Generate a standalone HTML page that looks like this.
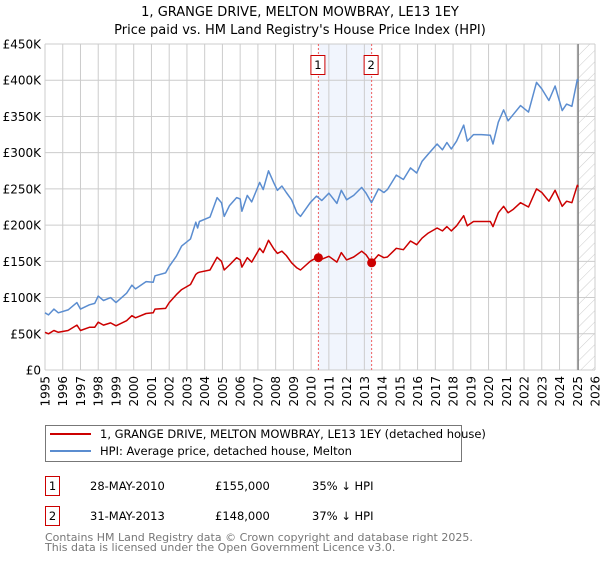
<!DOCTYPE html>
<html><head><meta charset="utf-8"><style>
body{margin:0;background:#fff;width:600px;height:560px;overflow:hidden;font-family:"DejaVu Sans","Liberation Sans",sans-serif;}
svg text{font-family:"DejaVu Sans","Liberation Sans",sans-serif;}
</style></head><body>
<svg id="chart" width="600" height="560" xmlns="http://www.w3.org/2000/svg">
<defs><pattern id="hatch" width="8" height="8" patternUnits="userSpaceOnUse" patternTransform="rotate(45)"><line x1="0" y1="0" x2="0" y2="8" stroke="#ccc" stroke-width="1"/></pattern></defs>
<text x="300" y="16" text-anchor="middle" font-size="13">1, GRANGE DRIVE, MELTON MOWBRAY, LE13 1EY</text>
<text x="300" y="34" text-anchor="middle" font-size="13">Price paid vs. HM Land Registry's House Price Index (HPI)</text>
<g id="grid"></g><g id="marks"></g><g id="axes"></g>
<g>
<rect x="45.5" y="425.5" width="416" height="36" fill="#fff" stroke="#777"/>
<line x1="50" y1="434" x2="91" y2="434" stroke="#cc0000" stroke-width="2"/>
<text x="100" y="438" font-size="11.5">1, GRANGE DRIVE, MELTON MOWBRAY, LE13 1EY (detached house)</text>
<line x1="50" y1="451" x2="91" y2="451" stroke="#5b8dd0" stroke-width="2"/>
<text x="100" y="455" font-size="11.5">HPI: Average price, detached house, Melton</text>
</g>
<g font-size="11.5">
<rect x="45.5" y="476.5" width="14" height="19" fill="#fff" stroke="#cc0000"/><text x="52.5" y="490" text-anchor="middle">1</text>
<text x="90" y="490">28-MAY-2010</text><text x="215" y="490">£155,000</text><text x="312" y="490">35% ↓ HPI</text>
<rect x="45.5" y="506.5" width="14" height="19" fill="#fff" stroke="#cc0000"/><text x="52.5" y="520" text-anchor="middle">2</text>
<text x="90" y="520">31-MAY-2013</text><text x="215" y="520">£148,000</text><text x="312" y="520">37% ↓ HPI</text>
</g>
<text x="45" y="541" font-size="11" fill="#777">Contains HM Land Registry data © Crown copyright and database right 2025.</text>
<text x="45" y="551" font-size="11" fill="#777">This data is licensed under the Open Government Licence v3.0.</text>
</svg>
<script>
const yTicks=[0,50,100,150,200,250,300,350,400,450];
const yTickLabels=["£0","£50K","£100K","£150K","£200K","£250K","£300K","£350K","£400K","£450K"];
const years=[1995,1996,1997,1998,1999,2000,2001,2002,2003,2004,2005,2006,2007,2008,2009,2010,2011,2012,2013,2014,2015,2016,2017,2018,2019,2020,2021,2022,2023,2024,2025,2026];
const hpiT=[1995.0,1995.2,1995.5,1995.75,1996.3,1996.8,1997.0,1997.5,1997.8,1998.0,1998.3,1998.7,1999.0,1999.6,1999.9,2000.1,2000.7,2001.1,2001.2,2001.8,2002.0,2002.4,2002.7,2003.2,2003.5,2003.6,2003.7,2004.3,2004.7,2004.95,2005.1,2005.4,2005.8,2006.0,2006.1,2006.4,2006.65,2007.1,2007.3,2007.6,2007.9,2008.1,2008.35,2008.6,2008.9,2009.2,2009.4,2009.95,2010.3,2010.6,2011.0,2011.45,2011.7,2012.0,2012.4,2012.85,2013.1,2013.4,2013.8,2014.1,2014.3,2014.8,2015.2,2015.6,2015.95,2016.25,2016.6,2017.1,2017.4,2017.65,2017.9,2018.2,2018.6,2018.8,2019.15,2019.6,2020.1,2020.25,2020.55,2020.85,2021.1,2021.4,2021.8,2022.25,2022.7,2023.0,2023.4,2023.75,2024.15,2024.4,2024.7,2025.0,2025.05];
const hpiV=[79,76,84,79,83,93,84,90,92,102,96,100,93,106,117,112,122,121,130,134,143,157,171,181,204,196,205,211,238,231,212,227,238,236,219,241,232,259,249,275,258,248,254,245,235,217,212,231,240,234,244,230,248,235,241,252,244,231,250,245,249,269,263,279,272,288,298,312,304,314,305,316,338,316,325,325,324,312,342,359,344,353,365,356,397,388,372,392,358,367,364,401,398];
const ppV=[52,50,54.5,52,54.5,62,54.5,59,59,66,62,65,61,68,75,72,78,79,84,85,93,104,111,118,132,134,135,138,155.5,150,138,145,155,152,142,155,149,168,162,179,167,161,164,158,148,141,138,150,155,153,157,149,162,152,156,164,159,148,159,155,156,168,166,178,173,182,189,196,192,198,192,199,213,199,205,205,205,198,217,226,217,222,231,225,250,245,233,248,226,233,231,255,253];
const saleT=[2010.41,2013.41];
const saleV=[155,148];
const saleLabels=["1","2"];
const x0=45,x1=595,y0=370,y1=44;
const X=t=>x0+(t-1995)/(2026-1995)*(x1-x0);
const Y=v=>y0-v/450*(y0-y1);
const NS="http://www.w3.org/2000/svg";
function mk(tag,attrs,parent){const e=document.createElementNS(NS,tag);for(const k in attrs)e.setAttribute(k,attrs[k]);document.getElementById(parent).appendChild(e);return e;}
// shaded band & hatch
let band=mk('rect',{x:X(saleT[0]),y:y1,width:X(saleT[1])-X(saleT[0]),height:y0-y1,fill:'#eef3fd',opacity:0.8},'grid');


let hat=mk('rect',{x:X(2025.05),y:y1,width:x1-X(2025.05),height:y0-y1,fill:'url(#hatch)'},'grid');


years.forEach(yr=>{
 let l=mk('line',{x1:X(yr),x2:X(yr),y1:y1,y2:y0,stroke:'#ccc','stroke-width':1},'grid');
 
 
 let t=mk('text',{x:0,y:0,'font-size':12,'text-anchor':'end',transform:`translate(${X(yr)+4.5},${y0+6}) rotate(-90)`},'axes');
 t.textContent=yr;
 
 
});
yTicks.forEach((v,i)=>{
 let l=mk('line',{x1:x0,x2:x1,y1:Y(v),y2:Y(v),stroke:'#ccc','stroke-width':1},'grid');
 
 
 let t=mk('text',{x:x0-4,y:Y(v)+4.5,'font-size':12,'text-anchor':'end'},'axes');
 t.textContent=yTickLabels[i];
 
 
});
let vl=mk('line',{x1:X(2025.05),x2:X(2025.05),y1:y1,y2:y0,stroke:'#888','stroke-width':1.5},'grid');


saleT.forEach((t,i)=>{
 let l=mk('line',{x1:X(t),x2:X(t),y1:y1,y2:y0,stroke:'#f06060','stroke-width':1,'stroke-dasharray':'2,2'},'marks');
 
 
 let r=mk('rect',{x:X(t)-7.5,y:55.5,width:14,height:19,fill:'#fff',stroke:'#cc0000'},'marks');
 
 
 let tx=mk('text',{x:X(t)-0.5,y:69,'font-size':11.5,'text-anchor':'middle'},'marks');
 tx.textContent=saleLabels[i];
 
 
});
const path=(T,V)=>T.map((t,i)=>(i?'L':'M')+X(t).toFixed(1)+','+Y(V[i]).toFixed(1)).join('');
let hp=mk('path',{d:path(hpiT,hpiV),fill:'none',stroke:'#5b8dd0','stroke-width':1.5,'stroke-linejoin':'round'},'marks');


let pp=mk('path',{d:path(hpiT,ppV),fill:'none',stroke:'#cc0000','stroke-width':1.5,'stroke-linejoin':'round'},'marks');


saleT.forEach((t,i)=>{
 let c=mk('circle',{cx:X(t),cy:Y(saleV[i]),r:4.5,fill:'#cc0000'},'marks');
 
 
});
</script>
</body></html>
